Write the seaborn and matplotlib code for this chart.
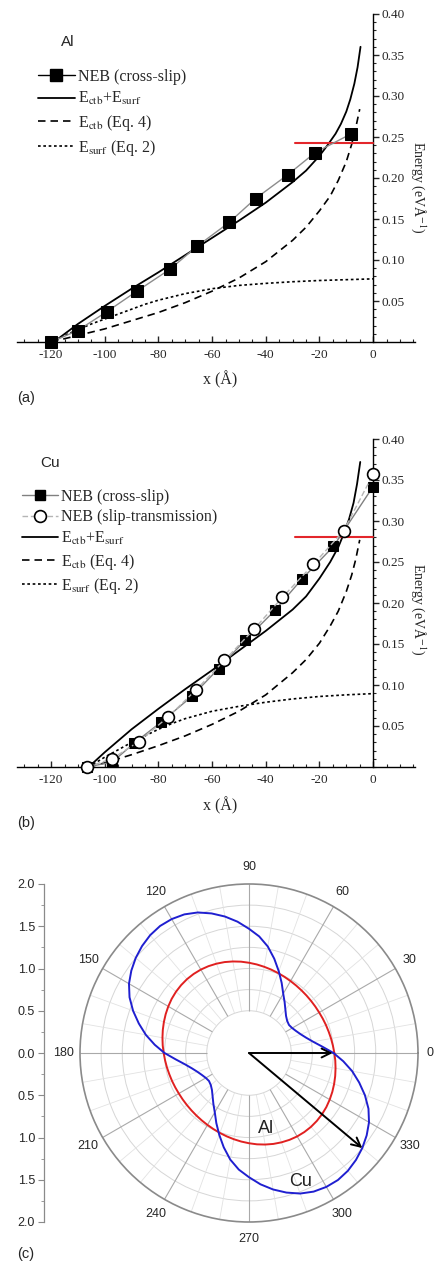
import numpy as np
import seaborn as sns
import matplotlib.pyplot as plt
from matplotlib.lines import Line2D
from matplotlib.ticker import MultipleLocator, FixedLocator, FuncFormatter

# ---------------- panel (a): Al ----------------
al_neb_x = [-120.0, -110.1, -99.2, -88.0, -75.6, -65.5, -53.6, -43.8, -31.8, -21.6, -8.1]
al_neb_y = [0.000, 0.014, 0.037, 0.062, 0.089, 0.117, 0.146, 0.175, 0.204, 0.231, 0.254]

al_sum_x = [-119, -110, -100, -90, -80, -70, -60, -50, -40, -30, -25, -20, -17, -14, -12, -10, -8.5, -7, -5.8, -4.7]
al_sum_y = [0.000, 0.022, 0.044, 0.065, 0.085, 0.106, 0.127, 0.148, 0.170, 0.195, 0.209, 0.227,
            0.240, 0.254, 0.266, 0.281, 0.296, 0.315, 0.335, 0.360]

al_ctb_x = [-120, -110, -100, -90, -80, -70, -60, -50, -40, -30, -25, -20, -16, -13, -10, -8, -6.5, -5]
al_ctb_y = [0.000, 0.008, 0.016, 0.026, 0.036, 0.048, 0.062, 0.078, 0.098, 0.124, 0.140, 0.160,
            0.178, 0.197, 0.220, 0.241, 0.261, 0.284]

al_surf_x = [-120, -115, -110, -105, -100, -95, -90, -85, -80, -75, -70, -65, -60, -50, -40, -30, -20, -10, 0]
al_surf_y = [0.000, 0.008, 0.015, 0.022, 0.028, 0.034, 0.040, 0.046, 0.051, 0.055, 0.059, 0.062,
             0.065, 0.069, 0.0715, 0.0735, 0.075, 0.076, 0.077]

al_red_x = [-29, 0]
al_red_y = [0.243, 0.243]

# ---------------- panel (b): Cu ----------------
cu_cs_x = [-106.6, -97.2, -89.1, -78.9, -67.6, -57.6, -47.6, -36.6, -26.6, -14.8, 0.0]
cu_cs_y = [0.000, 0.006, 0.029, 0.055, 0.086, 0.120, 0.155, 0.191, 0.229, 0.269, 0.342]

cu_st_x = [-106.6, -97.3, -87.3, -76.4, -66.0, -55.4, -44.4, -33.8, -22.3, -11.0, 0.0]
cu_st_y = [0.000, 0.010, 0.031, 0.061, 0.094, 0.130, 0.168, 0.207, 0.247, 0.288, 0.357]

cu_sum_x = [-106, -100, -90, -80, -70, -60, -50, -40, -30, -25, -20, -16, -13, -11, -9, -7.3, -6, -4.8]
cu_sum_y = [0.000, 0.018, 0.046, 0.071, 0.095, 0.118, 0.142, 0.166, 0.192, 0.208, 0.230, 0.250,
            0.268, 0.284, 0.302, 0.322, 0.345, 0.372]

cu_ctb_x = [-106, -100, -90, -80, -70, -60, -50, -40, -30, -25, -20, -16, -13, -10, -8, -6.5, -5]
cu_ctb_y = [0.000, 0.005, 0.015, 0.026, 0.038, 0.052, 0.068, 0.088, 0.115, 0.131, 0.151, 0.172,
            0.190, 0.214, 0.234, 0.253, 0.277]

cu_surf_x = [-106, -100, -95, -90, -85, -80, -75, -70, -60, -50, -40, -30, -20, -10, 0]
cu_surf_y = [0.000, 0.012, 0.021, 0.030, 0.038, 0.046, 0.053, 0.059, 0.068, 0.074, 0.079, 0.083,
             0.086, 0.088, 0.0895]

cu_red_x = [-29, 0]
cu_red_y = [0.280, 0.280]

# ---------------- panel (c): polar curves (angles in degrees) ----------------
polar_theta = list(range(0, 361, 5))
al_r = [1.010, 0.997, 0.986, 0.976, 0.969, 0.963, 0.959, 0.958, 0.959, 0.962, 0.967, 0.974,
        0.983, 0.994, 1.007, 1.021, 1.036, 1.052, 1.068, 1.085, 1.100, 1.114, 1.125, 1.134,
        1.140, 1.142, 1.141, 1.136, 1.128, 1.117, 1.103, 1.088, 1.072, 1.056, 1.040, 1.025,
        1.010, 0.997, 0.986, 0.976, 0.969, 0.963, 0.959, 0.958, 0.959, 0.962, 0.967, 0.974,
        0.983, 0.994, 1.007, 1.021, 1.036, 1.052, 1.068, 1.085, 1.100, 1.114, 1.125, 1.134,
        1.140, 1.142, 1.141, 1.136, 1.128, 1.117, 1.103, 1.088, 1.072, 1.056, 1.040, 1.025,
        1.010]
cu_r = [1.00, 0.87, 0.77, 0.70, 0.65, 0.615, 0.59, 0.578, 0.59, 0.62, 0.67, 0.735,
        0.81, 0.915, 1.03, 1.155, 1.28, 1.385, 1.47, 1.56, 1.64, 1.71, 1.77, 1.81,
        1.83, 1.835, 1.82, 1.79, 1.75, 1.70, 1.64, 1.56, 1.46, 1.35, 1.24, 1.12,
        1.00, 0.87, 0.77, 0.70, 0.65, 0.615, 0.59, 0.578, 0.59, 0.62, 0.67, 0.735,
        0.81, 0.915, 1.03, 1.155, 1.28, 1.385, 1.47, 1.56, 1.64, 1.71, 1.77, 1.81,
        1.83, 1.835, 1.82, 1.79, 1.75, 1.70, 1.64, 1.56, 1.46, 1.35, 1.24, 1.12,
        1.00]

arrow_theta = [0, 320]
arrow_r = [0.99, 1.75]

angle_ticks = list(range(0, 360, 30))
angle_labels = [str(a) for a in angle_ticks]
scale_ticks = [-2.0, -1.5, -1.0, -0.5, 0.0, 0.5, 1.0, 1.5, 2.0]

# ---------------- style ----------------
sns.set_style("ticks")
plt.rcParams['font.family'] = ['Liberation Serif', 'DejaVu Serif']
plt.rcParams['mathtext.fontset'] = 'stix'
plt.rcParams['axes.unicode_minus'] = False

W, H = 438, 1264
fig = plt.figure(figsize=(W / 100, H / 100), dpi=100)
SANS = ['Liberation Sans', 'DejaVu Sans']

DASH = (0, (4.5, 3.0))
DOT = (0, (1.6, 1.6))


def px_box(left, top, right, bottom):
    return [left / W, 1 - bottom / H, (right - left) / W, (bottom - top) / H]


def ftext(x, y, s, **kw):
    fig.text(x / W, 1 - y / H, s, **kw)


def energy_axes(top, bottom):
    ax = fig.add_axes(px_box(17, top, 415, bottom))
    ax.set_xlim(-132.7, 15.6)
    ax.set_ylim(0, 0.40)
    ax.spines['left'].set_visible(False)
    ax.spines['top'].set_visible(False)
    ax.spines['right'].set_position(('data', 0))
    for s in ['right', 'bottom']:
        ax.spines[s].set_linewidth(1.0)
        ax.spines[s].set_color('black')
    ax.yaxis.tick_right()
    ax.xaxis.set_major_locator(FixedLocator(list(range(-120, 1, 20))))
    ax.xaxis.set_minor_locator(MultipleLocator(5))
    ax.yaxis.set_major_locator(FixedLocator([0.05, 0.10, 0.15, 0.20, 0.25, 0.30, 0.35, 0.40]))
    ax.yaxis.set_minor_locator(MultipleLocator(0.01))
    ax.yaxis.set_major_formatter(FuncFormatter(lambda v, p: f"{v:.2f}"))
    ax.tick_params(axis='x', which='major', direction='in', length=4.5, width=1, labelsize=9.5, pad=5)
    ax.tick_params(axis='x', which='minor', direction='in', length=2.5, width=0.8)
    ax.tick_params(axis='y', which='major', direction='out', length=4, width=1, labelsize=9.5, pad=2)
    ax.tick_params(axis='y', which='minor', direction='out', length=2.2, width=0.8)
    return ax


def finish(ax):
    ax.set_xlabel('')
    ax.set_ylabel('')


# ---------------- (a) ----------------
ax_a = energy_axes(14, 342)
sns.lineplot(x=al_surf_x, y=al_surf_y, ax=ax_a, color='black', lw=1.2, linestyle=DOT, clip_on=False)
sns.lineplot(x=al_ctb_x, y=al_ctb_y, ax=ax_a, color='black', lw=1.2, linestyle=DASH, clip_on=False)
sns.lineplot(x=al_sum_x, y=al_sum_y, ax=ax_a, color='black', lw=1.3, clip_on=False)
sns.lineplot(x=al_red_x, y=al_red_y, ax=ax_a, color='#e3262b', lw=1.5, zorder=4, clip_on=False)
sns.lineplot(x=al_neb_x, y=al_neb_y, ax=ax_a, color='#8c8c8c', lw=1.0, marker='s', markersize=8.5,
             markerfacecolor='black', markeredgecolor='black', zorder=5, clip_on=False)
finish(ax_a)

h_a = [
    Line2D([], [], color='black', lw=1.0, marker='s', ms=8.5, mfc='black', mec='black'),
    Line2D([], [], color='black', lw=1.3),
    Line2D([], [], color='black', lw=1.2, linestyle=DASH),
    Line2D([], [], color='black', lw=1.2, linestyle=DOT),
]
l_a = ['NEB (cross-slip)', r'E$_{\rm ctb}$+E$_{\rm surf}$', r'E$_{\rm ctb}$ (Eq. 4)', r'E$_{\rm surf}$ (Eq. 2)']
fig.legend(h_a, l_a, loc='upper left', bbox_to_anchor=(38 / W, 1 - 69 / H), frameon=False,
           fontsize=11.5, handlelength=2.3, handletextpad=0.2, labelspacing=0.33,
           borderpad=0, borderaxespad=0)
ftext(68, 42, 'Al', fontsize=11, family=SANS, ha='center', va='center')
ftext(220, 380, 'x (Å)', fontsize=11.5, ha='center', va='center')
ftext(418, 187, 'Energy (eVÅ$^{-1}$)', fontsize=10, rotation=270, ha='center', va='center')
ftext(26, 398, '(a)', fontsize=10.5, family=SANS, ha='center', va='center')

# ---------------- (b) ----------------
ax_b = energy_axes(439, 767)
sns.lineplot(x=cu_surf_x, y=cu_surf_y, ax=ax_b, color='black', lw=1.2, linestyle=DOT, clip_on=False)
sns.lineplot(x=cu_ctb_x, y=cu_ctb_y, ax=ax_b, color='black', lw=1.2, linestyle=DASH, clip_on=False)
sns.lineplot(x=cu_sum_x, y=cu_sum_y, ax=ax_b, color='black', lw=1.3, clip_on=False)
sns.lineplot(x=cu_red_x, y=cu_red_y, ax=ax_b, color='#e3262b', lw=1.5, zorder=4, clip_on=False)
sns.lineplot(x=cu_cs_x, y=cu_cs_y, ax=ax_b, color='#808080', lw=1.0, marker='s', markersize=7.5,
             markerfacecolor='black', markeredgecolor='black', zorder=5, clip_on=False)
sns.lineplot(x=cu_st_x, y=cu_st_y, ax=ax_b, color='#b5b5b5', lw=1.0, linestyle=(0, (4, 2)),
             marker='o', markersize=8.5, markerfacecolor='white', markeredgecolor='black',
             markeredgewidth=1.2, zorder=6, clip_on=False)
finish(ax_b)

h_b = [
    Line2D([], [], color='#808080', lw=1.0, marker='s', ms=7.5, mfc='black', mec='black'),
    Line2D([], [], color='#b5b5b5', lw=1.0, linestyle=(0, (4, 2)), marker='o', ms=8.5,
           mfc='white', mec='black', mew=1.2),
    Line2D([], [], color='black', lw=1.3),
    Line2D([], [], color='black', lw=1.2, linestyle=DASH),
    Line2D([], [], color='black', lw=1.2, linestyle=DOT),
]
l_b = ['NEB (cross-slip)', 'NEB (slip-transmission)', r'E$_{\rm ctb}$+E$_{\rm surf}$',
       r'E$_{\rm ctb}$ (Eq. 4)', r'E$_{\rm surf}$ (Eq. 2)']
fig.legend(h_b, l_b, loc='upper left', bbox_to_anchor=(22 / W, 1 - 489 / H), frameon=False,
           fontsize=11.5, handlelength=2.25, handletextpad=0.2, labelspacing=0.28,
           borderpad=0, borderaxespad=0)
ftext(50, 463, 'Cu', fontsize=11, family=SANS, ha='center', va='center')
ftext(220, 806, 'x (Å)', fontsize=11.5, ha='center', va='center')
ftext(418, 609, 'Energy (eVÅ$^{-1}$)', fontsize=10, rotation=270, ha='center', va='center')
ftext(26, 823, '(b)', fontsize=10.5, family=SANS, ha='center', va='center')

# ---------------- (c) polar ----------------
axp = fig.add_axes(px_box(80, 884, 418, 1222), projection='polar')
axp.set_ylim(0, 2.0)
axp.set_yticks([0.5, 0.75, 1.0, 1.25, 1.5, 1.75])
axp.set_yticklabels([])
axp.yaxis.grid(True, color='#d6d6d6', lw=0.7)
axp.xaxis.grid(False)
axp.set_xticks(np.deg2rad(angle_ticks))
axp.set_xticklabels([])
axp.xaxis.set_minor_locator(FixedLocator(np.deg2rad(np.arange(0, 360, 10))))
axp.tick_params(axis='x', which='both', direction='in', color='#8a8a8a')
axp.tick_params(axis='x', which='major', length=5, width=0.8)
axp.tick_params(axis='x', which='minor', length=3, width=0.6)
axp.spines['polar'].set_color('#8a8a8a')
axp.spines['polar'].set_linewidth(1.2)
minor_deg = [a for a in range(0, 360, 10) if a % 30]
axp.vlines(np.deg2rad(minor_deg), 0.5, 2.0, colors='#e2e2e2', lw=0.6, zorder=1)
axp.vlines(np.deg2rad(angle_ticks), 0.5, 2.0, colors='#a9a9a9', lw=0.8, zorder=1)

# angle labels just outside the rim
for a, lab in zip(angle_ticks, angle_labels):
    axp.text(np.deg2rad(a), 2.14 if a == 0 else 2.2, lab, fontsize=9, family=SANS,
             ha='center', va='center', clip_on=False)

sns.lineplot(x=np.deg2rad(polar_theta), y=al_r, ax=axp, color='#e02020', lw=1.4,
             sort=False, estimator=None, zorder=3)
sns.lineplot(x=np.deg2rad(polar_theta), y=cu_r, ax=axp, color='#1f1fd0', lw=1.4,
             sort=False, estimator=None, zorder=3)
for t, r in zip(arrow_theta, arrow_r):
    axp.annotate('', xy=(np.deg2rad(t), r), xytext=(0, 0),
                 arrowprops=dict(arrowstyle='->', color='black', lw=1.4, mutation_scale=16,
                                 shrinkA=0, shrinkB=0), zorder=4)
axp.text(np.deg2rad(283), 0.92, 'Al', fontsize=13, family=SANS, ha='center', va='center', color='#222222')
axp.text(np.deg2rad(292), 1.64, 'Cu', fontsize=13, family=SANS, ha='center', va='center', color='#222222')
axp.set_xlabel('')
axp.set_ylabel('')
axp.set_ylim(0, 2.0)

# left radial scale
ax_s = fig.add_axes(px_box(44, 884, 45, 1222))
ax_s.set_ylim(-2.0, 2.0)
ax_s.set_xticks([])
for s in ['right', 'top', 'bottom']:
    ax_s.spines[s].set_visible(False)
ax_s.spines['left'].set_color('#8a8a8a')
ax_s.spines['left'].set_linewidth(0.9)
ax_s.set_yticks(scale_ticks)
ax_s.set_yticklabels([f"{abs(v):.1f}" for v in scale_ticks], fontsize=9, fontfamily='Liberation Sans')
ax_s.yaxis.set_minor_locator(MultipleLocator(0.25))
ax_s.tick_params(axis='y', which='major', direction='out', length=4.5, width=0.8, color='#8a8a8a', pad=2)
ax_s.tick_params(axis='y', which='minor', direction='out', length=2.5, width=0.6, color='#8a8a8a')
ax_s.patch.set_alpha(0)

ftext(26, 1254, '(c)', fontsize=10.5, family=SANS, ha='center', va='center')

fig.savefig('out.png', dpi=100)
